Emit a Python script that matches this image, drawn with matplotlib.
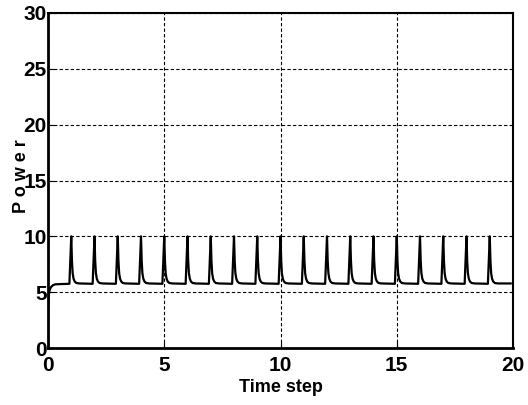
import numpy as np
import matplotlib
matplotlib.use("Agg")
import matplotlib.pyplot as plt

plt.rcParams['font.family'] = ['Liberation Sans Narrow', 'Liberation Sans', 'DejaVu Sans']
plt.rcParams['font.weight'] = 'bold'

# start-up transient (time, power)
start_t = [0.0, 0.03, 0.06, 0.1, 0.15, 0.2, 0.3, 0.5]
start_p = [3.0, 4.6, 5.1, 5.35, 5.5, 5.6, 5.7, 5.72]

# one spike: offset from spike time, power
pulse_dt = [-0.08, 0.0, 0.03, 0.06, 0.1, 0.15, 0.22, 0.35]
pulse_p = [5.75, 10.0, 7.8, 6.7, 6.2, 5.95, 5.82, 5.78]

spike_times = list(range(1, 20))
end_t, end_p = 19.9, 5.78

t = list(start_t)
p = list(start_p)
for k in spike_times:
    t += [k + d for d in pulse_dt]
    p += pulse_p
t.append(end_t)
p.append(end_p)

fig = plt.figure(figsize=(5.28, 4.05), dpi=100)
ax = fig.add_axes([48/528, 1 - 348/405, 465/528, 335/405])
ax.plot(t, p, color='black', lw=1.6)

ax.set_xlim(0, 20)
ax.set_ylim(0, 30)
ax.set_xticks([0, 5, 10, 15, 20])
ax.set_yticks([0, 5, 10, 15, 20, 25, 30])
ax.grid(True, color='black', linestyle=(0, (3, 2)), linewidth=0.8)
ax.tick_params(direction='in', length=4, labelsize=15, pad=1)
ax.tick_params(axis='x', pad=6)
for lab in ax.get_xticklabels() + ax.get_yticklabels():
    lab.set_fontweight('bold')
for s in ['left', 'bottom']:
    ax.spines[s].set_linewidth(2)
for s in ['top', 'right']:
    ax.spines[s].set_linewidth(1.5)

ax.set_xlabel('Time step', fontsize=13, fontweight='bold', labelpad=3)
fig.text(22/528, 1 - 176/405, 'P o w e r', rotation=90, fontsize=13,
         fontweight='bold', ha='center', va='center')

plt.savefig("out.png", dpi=100)
